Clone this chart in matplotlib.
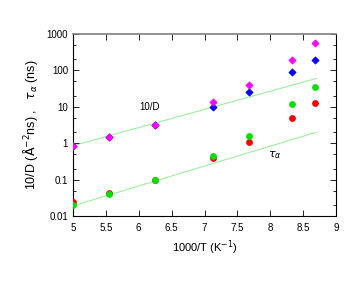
import matplotlib
matplotlib.use('Agg')
import matplotlib.pyplot as plt
from matplotlib.ticker import LogLocator, NullFormatter

plt.rcParams['font.family'] = ['Liberation Sans', 'DejaVu Sans']

x_pts = [5.0, 5.55, 6.25, 7.13, 7.68, 8.33, 8.68]

# 10/D, two sets
d_magenta = [0.85, 1.5, 3.2, 13.2, 40, 188, 575]
d_blue = [0.85, 1.45, 3.1, 9.8, 25, 91, 191]

# tau_alpha, two sets
tau_red = [0.024, 0.044, 0.1, 0.39, 1.1, 4.9, 12.4]
tau_green = [0.020, 0.039, 0.097, 0.44, 1.55, 11.9, 35]

# fitted lines (end points)
fit_x = [5.0, 8.7]
fit_d = [0.85, 60]
fit_tau = [0.019, 2.0]

fig = plt.figure(figsize=(3.63, 2.81), dpi=100)
ax = fig.add_axes([73/363, 1-216/281, (336-73)/363, (216-34)/281])

ax.plot(fit_x, fit_d, color='#90ee90', lw=0.7, zorder=1)
ax.plot(fit_x, fit_tau, color='#90ee90', lw=0.7, zorder=1)

ax.scatter(x_pts, d_blue, color='blue', marker='D', s=13, linewidths=0.6, zorder=3)
ax.scatter(x_pts, d_magenta, color='magenta', marker='D', s=13, linewidths=0.6, zorder=3)
ax.scatter(x_pts, tau_red, color='red', marker='o', s=24, linewidths=0, zorder=3)
ax.scatter(x_pts, tau_green, color='#00e000', marker='o', s=24, linewidths=0, zorder=3)

ax.set_yscale('log')
ax.set_xlim(5, 9)
ax.set_ylim(0.01, 1000)
ax.set_xticks([5, 5.5, 6, 6.5, 7, 7.5, 8, 8.5, 9])
ax.set_xticklabels(['5', '5.5', '6', '6.5', '7', '7.5', '8', '8.5', '9'])
ax.set_yticks([0.01, 0.1, 1, 10, 100, 1000])
ax.set_yticklabels(['0.01', '0.1', '1', '10', '100', '1000'])
ax.yaxis.set_minor_locator(LogLocator(base=10, subs=[2, 5]))
ax.yaxis.set_minor_formatter(NullFormatter())
ax.tick_params(which='both', direction='in', top=True, right=True, labelsize=7, width=0.6)
ax.tick_params(which='major', length=4)
ax.tick_params(which='minor', length=2.5)
ax.tick_params(axis='x', pad=5)
for s in ax.spines.values():
    s.set_linewidth(0.8)
ax.spines['top'].set_color('#808080')
ax.spines['top'].set_linewidth(1.2)

ax.set_xlabel('1000/T (K$^{-1}$)', fontsize=8, labelpad=4)
ax.set_ylabel('10/D ($\\mathrm{\\AA}^{-2}$ns) ,   $\\tau_\\alpha$ (ns)', fontsize=9, labelpad=5)

ax.text(6.17, 10, '10/D', fontsize=7, ha='center', va='center')
ax.text(8.07, 0.46, '$\\tau_\\alpha$', fontsize=8, ha='center', va='center')

fig.savefig('out.png', dpi=100)
